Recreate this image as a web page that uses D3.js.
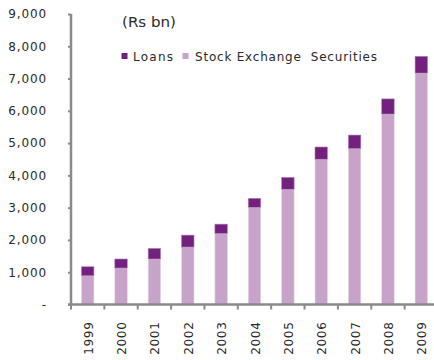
<!DOCTYPE html>
<html><head><meta charset="utf-8">
<script src="https://cdn.jsdelivr.net/npm/d3@7"></script>
<style>body{margin:0;background:#fff}svg{display:block}text{font-family:"DejaVu Sans",sans-serif;fill:#2a2a2a}</style>
</head><body><svg id="c" width="434" height="360"></svg>
<script>
const years = ["1999","2000","2001","2002","2003","2004","2005","2006","2007","2008","2009"];
const stock = [890,1130,1410,1780,2200,3010,3570,4500,4830,5900,7170];
const loans = [280,280,330,370,290,280,370,380,420,470,520];
const yTicks = [0,1000,2000,3000,4000,5000,6000,7000,8000,9000];
const seriesNames = ["Loans","Stock Exchange  Securities"];
const colors = {loans:"#74207f", stock:"#c7a3c9"};

const svg = d3.select("#c");
const x = d3.scaleBand().domain(years).range([71, 438]).padding(0);
const y = d3.scaleLinear().domain([0, 9000]).range([304.5, 14]);
const barW = 12.5;

const g = svg.append("g");
years.forEach((yr, i) => {
  const cx = x(yr) + x.bandwidth()/2;
  g.append("rect").attr("x", cx - barW/2).attr("width", barW)
    .attr("y", y(stock[i])).attr("height", y(0) - y(stock[i]))
    .attr("fill", colors.stock).attr("stroke","#ead9eb").attr("stroke-width",0.6);
  g.append("rect").attr("x", cx - barW/2).attr("width", barW)
    .attr("y", y(stock[i] + loans[i])).attr("height", y(stock[i]) - y(stock[i] + loans[i]))
    .attr("fill", colors.loans).attr("stroke","#b58bb9").attr("stroke-width",0.6);
});

// Y axis
const yAxis = d3.axisLeft(y).tickValues(yTicks).tickSize(3).tickPadding(21)
  .tickFormat(d => d === 0 ? "-" : d3.format(",")(d));
const ya = svg.append("g").attr("transform","translate(71,0)").call(yAxis);
ya.select(".domain").attr("stroke","#8a8a8a").attr("stroke-width",2.5).attr("d","M0,14V305.5");
ya.selectAll(".tick line").attr("stroke","#8a8a8a").attr("stroke-width",2);
ya.selectAll(".tick text").style("font-size","12px").style("letter-spacing","0.9px").attr("fill","#2a2a2a");

// X axis
const xAxis = d3.axisBottom(x).tickSize(0).tickPadding(0);
const xa = svg.append("g").attr("transform","translate(0,304.5)").call(xAxis);
xa.select(".domain").attr("stroke","#8a8a8a").attr("stroke-width",2.5).attr("d","M68,0H438");
years.forEach(yr => {
  xa.append("line").attr("x1", x(yr)+x.bandwidth()).attr("x2", x(yr)+x.bandwidth())
    .attr("y1",0).attr("y2",5).attr("stroke","#8a8a8a").attr("stroke-width",2);
});
xa.append("line").attr("x1",71).attr("x2",71).attr("y1",0).attr("y2",5).attr("stroke","#8a8a8a").attr("stroke-width",2);
xa.selectAll(".tick text")
  .attr("transform","rotate(-90)")
  .attr("text-anchor","end")
  .attr("x",-17).attr("y",5).attr("dy","0")
  .style("font-size","12px").style("letter-spacing","0.7px").attr("fill","#2a2a2a");

// Unit label
svg.append("text").attr("x",122).attr("y",27).text("(Rs bn)").style("font-size","14px")
  .attr("textLength",54).attr("lengthAdjust","spacingAndGlyphs");

// Legend
const leg = svg.append("g");
leg.append("rect").attr("x",121.5).attr("y",53).attr("width",6).attr("height",6).attr("fill",colors.loans);
leg.append("text").attr("x",133).attr("y",61).text(seriesNames[0]).style("font-size","12px").attr("textLength",40).attr("lengthAdjust","spacing");
leg.append("rect").attr("x",182.5).attr("y",53).attr("width",6).attr("height",6).attr("fill",colors.stock);
leg.append("text").attr("x",195).attr("y",61).text(seriesNames[1]).style("font-size","12px").style("white-space","pre").attr("xml:space","preserve").attr("textLength",182).attr("lengthAdjust","spacing");
</script></body></html>
